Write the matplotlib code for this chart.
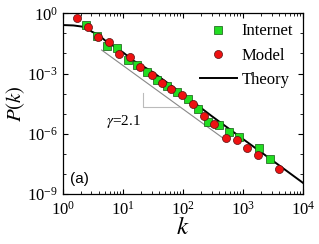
import numpy as np
import matplotlib
matplotlib.use("Agg")
import matplotlib.pyplot as plt
from matplotlib.ticker import LogLocator, FixedLocator, NullFormatter

plt.rcParams['font.family'] = ['Liberation Serif', 'DejaVu Serif']
plt.rcParams['mathtext.fontset'] = 'stix'

# Internet data (green squares)
internet_k = [2.42, 3.65, 5.35, 8.04, 12.1, 17.1, 24.8, 36.9, 54.1, 81, 122, 181,
              261, 391, 584, 858, 1870, 2818]
internet_logp = [-0.582, -1.129, -1.627, -1.741, -2.313, -2.562, -2.920, -3.333,
                 -3.607, -3.905, -4.279, -4.751, -5.423, -5.547, -5.920, -6.144,
                 -6.741, -7.264]

# Model data (red circles)
model_k = [1.69, 2.58, 3.79, 5.84, 8.58, 13.1, 19.2, 30.1, 44.2, 63.1, 96.2, 147,
           226, 329, 521, 785, 1180, 1778, 4027]
model_logp = [-0.249, -0.697, -1.194, -1.443, -2.005, -2.164, -2.687, -3.085,
              -3.448, -3.781, -4.055, -4.527, -5.100, -5.498, -6.219, -6.318,
              -6.731, -7.080, -7.761]

# Theory curve (black line)
theory_k = [1, 1.5, 2, 2.5, 3, 4, 5, 7, 10, 15, 30, 100, 300, 1000, 3000, 10000]
theory_logp = [-0.58, -0.60, -0.65, -0.70, -0.90, -1.09, -1.34, -1.63, -1.94,
               -2.36, -2.89, -4.03, -5.12, -6.27, -7.31, -8.46]

# Slope guide (gamma = 2.1)
guide_k = [4.42, 470]
guide_logp = [-1.826, -6.234]
tri_k = [21.8, 21.8, 87.5]
tri_logp = [-3.99, -4.66, -4.66]

fig = plt.figure(figsize=(3.19, 2.44), dpi=100)
ax = fig.add_axes([0.197, 0.206, 0.753, 0.739])

ax.plot(guide_k, 10.0 ** np.array(guide_logp), color='#888888', lw=0.8)
ax.plot(tri_k, 10.0 ** np.array(tri_logp), color='#bbbbbb', lw=0.8)

ax.plot(theory_k, 10.0 ** np.array(theory_logp), color='black', lw=1.4,
        label='Theory', zorder=3)
ax.plot(internet_k, 10.0 ** np.array(internet_logp), 's', color='#22dd22',
        mec='#115511', mew=0.5, ms=5.2, label='Internet', zorder=4)
ax.plot(model_k, 10.0 ** np.array(model_logp), 'o', color='#ee1111',
        mec='#551111', mew=0.5, ms=5.8, label='Model', zorder=5)

ax.set_xscale('log')
ax.set_yscale('log')
ax.set_xlim(1, 1e4)
ax.set_ylim(1e-9, 1)

ax.xaxis.set_major_locator(LogLocator(base=10, numticks=10))
ax.xaxis.set_minor_locator(LogLocator(base=10, subs=np.arange(2, 10), numticks=20))
ax.xaxis.set_minor_formatter(NullFormatter())
ax.yaxis.set_major_locator(FixedLocator([1e-9, 1e-6, 1e-3, 1]))
ax.yaxis.set_minor_locator(FixedLocator([10.0 ** e for e in range(-9, 1)]))
ax.yaxis.set_minor_formatter(NullFormatter())

ax.tick_params(which='both', direction='in', top=True, right=True, labelsize=12)
ax.tick_params(axis='x', which='major', pad=5)
ax.tick_params(which='major', length=3.5, width=0.8)
ax.tick_params(which='minor', length=2, width=0.6)
for s in ax.spines.values():
    s.set_linewidth(0.9)

ax.set_xlabel('$k$', fontsize=18, labelpad=-1)
ax.set_ylabel('$P(k)$', fontsize=15, labelpad=0)

ax.text(10.1, 10 ** -5.37, r'$\gamma$=2.1', fontsize=11, ha='center', va='center')
ax.text(0.03, 0.08, '(a)', transform=ax.transAxes, fontsize=11,
        family='Liberation Sans', ha='left', va='center')

handles, labels = ax.get_legend_handles_labels()
order = [1, 2, 0]
ax.legend([handles[i] for i in order], [labels[i] for i in order],
          loc='upper right', frameon=False, fontsize=12, handlelength=2.2,
          handletextpad=0.3, labelspacing=0.5, borderaxespad=0.2)

fig.savefig('out.png', dpi=100)
